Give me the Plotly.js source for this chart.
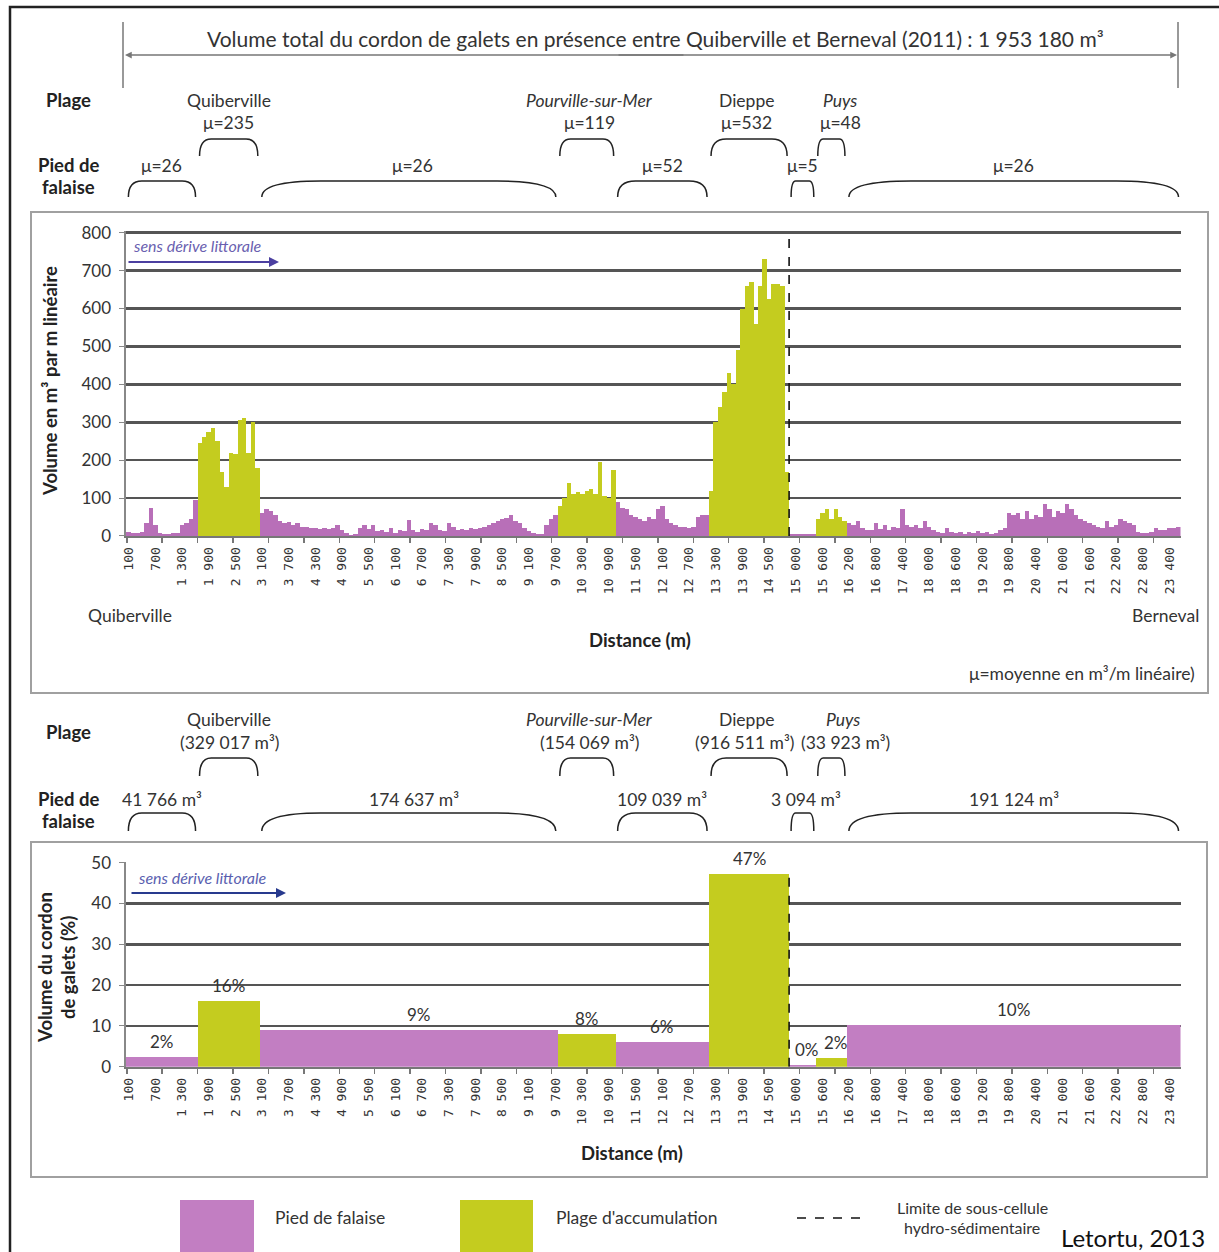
<!DOCTYPE html>
<html><head><meta charset="utf-8">
<script src="https://cdn.plot.ly/plotly-3.0.1.min.js"></script>
<style>body{margin:0;background:#fff}#chart{width:1219px;height:1252px}</style>
</head><body><div id="chart"></div>
<script>
// ---------------- DATA ----------------
const sampleStep = 100; // m between profiles
const segName   = ['Pied de falaise','Quiberville','Pied de falaise','Pourville-sur-Mer','Pied de falaise','Dieppe','Pied de falaise','Puys','Pied de falaise'];
const segType   = ['falaise','plage','falaise','plage','falaise','plage','falaise','plage','falaise'];
const segFirst  = [100, 1700, 3100, 9800, 11100, 13200, 15000, 15600, 16300]; // first profile (m)
const segMean   = [26, 235, 26, 119, 52, 532, 5, 48, 26];               // m3 / m
const segVolume = [41766, 329017, 174637, 154069, 109039, 916511, 3094, 33923, 191124]; // m3
const segPct    = [2.3, 16.1, 9.0, 8.1, 6.0, 47.3, 0.3, 2.1, 10.2];
const segPctLabel = ['2%','16%','9%','8%','6%','47%','0%','2%','10%'];
const totalVolume = '1 953 180';

const volPied1 = [10,8,8,10,35,75,30,8,6,6,7,8,30,35,45,95];
const volQuiberville = [245,260,275,285,250,170,130,220,215,305,310,220,300,180];
const volPied2 = [60,70,65,55,40,35,38,30,35,25,25,20,22,18,20,18,20,30,15,8,3,5,20,30,18,28,12,15,10,20,8,15,12,42,15,10,18,15,35,30,15,12,35,25,15,18,15,22,18,20,25,28,35,40,45,48,55,40,35,20,12,8,6,5,30,45,55];
const volPourville = [80,100,140,110,115,110,120,125,110,195,105,100,175];
const volPied3 = [90,75,70,55,50,45,40,50,45,70,80,45,35,30,25,25,20,25,50,55,55];
const volDieppe = [120,300,340,380,430,400,490,600,660,670,560,660,730,625,665,665,660,170];
const volPied4 = [4,5,6,6,5,4];
const volPuys = [45,60,70,45,70,50,40];
const volPied5 = [35,30,40,20,15,15,35,18,30,15,25,20,70,30,25,30,20,40,25,15,10,8,20,10,8,10,5,10,8,12,8,10,5,8,15,20,60,55,60,45,65,45,55,50,85,70,50,65,60,85,70,55,45,40,35,30,25,20,40,25,30,45,40,35,30,10,8,8,10,20,15,15,20,20,25];
const segSamples = [volPied1, volQuiberville, volPied2, volPourville, volPied3, volDieppe, volPied4, volPuys, volPied5];

const tickLabels = [100,700,1300,1900,2500,3100,3700,4300,4900,5500,6100,6700,7300,7900,8500,9100,9700,10300,10900,11500,12100,12700,13300,13900,14500,15000,15600,16200,16800,17400,18000,18600,19200,19800,20400,21000,21600,22200,22800,23400];
const limiteSousCellule = 14950; // m

// ---------------- STYLE / GEOMETRY ----------------
const W = 1219, H = 1252;
const px = v => v / W, py = v => 1 - v / H;
const FONT = 'Lato, "Open Sans", sans-serif';
const TXT = '#333333', DARK = '#222222';
const FS = 17.5, FSB = 18.5;
const PURPLE = '#b86fb8', PURPLE2 = '#c27ec2', GREEN = '#c4cc1f';
const xRange = [30, 23750];
const xDomPx = [125.5, 1180.5];
const mPerPx = (xRange[1]-xRange[0])/(xDomPx[1]-xDomPx[0]);
const fmt = n => String(n).replace(/\B(?=(\d{3})+(?!\d))/g, ' ');

// segment extents derived from the sampled profiles
const segLo = segFirst.map(f => f - sampleStep/2);
const segHi = segFirst.map((f,i) => f + segSamples[i].length*sampleStep - sampleStep/2);

// ---------------- TRACES ----------------
const xs = [], yF = [], yP = [];
segSamples.forEach((arr,i) => arr.forEach((v,j) => {
  xs.push(segFirst[i] + j*sampleStep);
  yF.push(segType[i]==='falaise' ? v : null);
  yP.push(segType[i]==='plage' ? v : null);
}));
const traces = [
  {type:'bar', x:xs, y:yF, width:sampleStep, marker:{color:PURPLE, line:{width:0}}, xaxis:'x', yaxis:'y', hoverinfo:'skip'},
  {type:'bar', x:xs, y:yP, width:sampleStep, marker:{color:GREEN, line:{width:0}}, xaxis:'x', yaxis:'y', hoverinfo:'skip'}
];
['falaise','plage'].forEach(t => {
  const idx = segType.map((s,i)=>s===t?i:-1).filter(i=>i>=0);
  traces.push({type:'bar', xaxis:'x2', yaxis:'y2', hoverinfo:'skip',
    x: idx.map(i => (segLo[i]+segHi[i])/2),
    width: idx.map(i => segHi[i]-segLo[i]),
    y: idx.map(i => segPct[i]),
    marker:{color: t==='falaise'?PURPLE2:GREEN, line:{width:0}}});
});

// ---------------- AXES ----------------
const tickPos = tickLabels.map((_,k) => 100 + 600*k);
const minorPos = []; for (let v = 60; v < xRange[1]; v += 796) minorPos.push(v);
function xAxis(anchor) {
  return {domain:[px(xDomPx[0]), px(xDomPx[1])], range:xRange, anchor, fixedrange:true,
    showgrid:false, zeroline:false, showline:true, linecolor:'#777', linewidth:2,
    tickmode:'array', tickvals:tickPos, ticktext:tickLabels.map(fmt), tickangle:-90,
    ticks:'', ticklabelstandoff:4,
    tickfont:{family:'"DejaVu Sans Mono", monospace', size:13, color:TXT},
    minor:{tickmode:'array', tickvals:minorPos, ticks:'outside', ticklen:5, tickcolor:'#777', tickwidth:1.5, showgrid:false}};
}
// y range slightly above the last gridline so that it is drawn
function yAxis(anchor, topVal, topPx, botPx, dtick) {
  const pad = topVal*0.004;
  const pxPerUnit = (botPx-topPx)/topVal;
  return {domain:[py(botPx), py(topPx - pad*pxPerUnit)], range:[0, topVal+pad], anchor, dtick, fixedrange:true,
    showgrid:true, gridcolor:'#555', gridwidth:2.5, zeroline:false,
    showline:true, linecolor:'#888', linewidth:2, ticks:'outside', ticklen:5, tickcolor:'#888',
    ticklabelstandoff:4, tickfont:{family:FONT, size:17, color:TXT}};
}

// ---------------- ANNOTATIONS / SHAPES ----------------
const ann = [], shp = [];
function T(text, x, y, o={}) {
  ann.push(Object.assign({text, x:px(x), y:py(y), xref:'paper', yref:'paper', showarrow:false,
    xanchor:'center', yanchor:'middle', font:{family:FONT, size:FS, color:TXT}}, o));
}
const B = (text, x, y, o={}) => T(`<b>${text}</b>`, x, y, Object.assign({font:{family:FONT, size:FSB, color:DARK}}, o));
function bracket(i, xref, topPx, botPx) {
  const inset = 2*mPerPx;
  const x0 = segLo[i]+inset, x1 = segHi[i]-inset;
  const wPx = (x1-x0)/mPerPx;
  const d = Math.min(0.2*wPx, 62)*mPerPx;
  const yt = py(topPx), yb = py(botPx);
  shp.push({type:'path', xref, yref:'paper', line:{color:'#222', width:1.5},
    path:`M ${x0},${yb} Q ${x0},${yt} ${x0+d},${yt} L ${x1-d},${yt} Q ${x1},${yt} ${x1},${yb}`});
}

// outer frame & boxes
shp.push({type:'rect', xref:'paper', yref:'paper', x0:px(10), x1:px(1235), y0:py(1270), y1:py(7), line:{color:'#222', width:2.5}});
shp.push({type:'rect', xref:'paper', yref:'paper', x0:px(31), x1:px(1208), y0:py(693), y1:py(212), line:{color:'#a0a0a0', width:2}, layer:'below'});
shp.push({type:'rect', xref:'paper', yref:'paper', x0:px(31), x1:px(1207), y0:py(1177), y1:py(842), line:{color:'#a0a0a0', width:2}, layer:'below'});

// title with arrow span
T(`Volume total du cordon de galets en présence entre Quiberville et Berneval (2011) : ${totalVolume} m³`, 655, 38, {font:{family:FONT, size:21, color:TXT}});
[123, 1178].forEach(x => shp.push({type:'line', xref:'paper', yref:'paper', x0:px(x), x1:px(x), y0:py(88), y1:py(22), line:{color:'#777', width:1.5}}));
[[125, 560], [1177, -560]].forEach(([x, ax]) => ann.push({text:'', x:px(x), y:py(55), xref:'paper', yref:'paper', showarrow:true, ax, ay:0,
  arrowhead:2, arrowsize:0.9, arrowwidth:1.5, arrowcolor:'#777'}));

// header rows (label shifts in px, styling only)
B('Plage', 68, 100);
B('Pied de', 68, 165);
B('falaise', 68, 187);
const headShiftTop = {1:0, 3:3, 5:-3, 7:9};
const headShiftBot = {1:1, 3:3, 5:-5, 7:14};
segType.forEach((t,i) => {
  const cx = ((segLo[i]+segHi[i])/2 - xRange[0])/mPerPx + xDomPx[0];
  const italic = (segName[i]==='Pourville-sur-Mer' || segName[i]==='Puys');
  const nm = italic ? `<i>${segName[i]}</i>` : segName[i];
  if (t === 'plage') {
    T(nm, cx + (headShiftTop[i]||0), 100);
    T(`μ=${segMean[i]}`, cx + (headShiftTop[i]||0), 123);
    bracket(i, 'x', 139, 156);
    T(nm, cx + (i===7?12:(headShiftTop[i]||0)), 719);
    T(`(${fmt(segVolume[i])} m³)`, cx + (headShiftBot[i]||0), 742);
    bracket(i, 'x2', 758, 776);
  } else {
    T(`μ=${segMean[i]}`, cx + (i===2?4:0), 165);
    bracket(i, 'x', 181, 197);
    T(`${fmt(segVolume[i])} m³`, cx + (i===2?5:(i===6?4:0)), 799);
    bracket(i, 'x2', 813, 831);
  }
});
B('Plage', 68, 732);
B('Pied de', 68, 799);
B('falaise', 68, 821);

// top chart labels
B('Volume en m³ par m linéaire', 50, 381, {textangle:-90});
T('Quiberville', 130, 615);
T('Berneval', 1165, 615);
B('Distance (m)', 640, 640);
T('μ=moyenne en m³/m linéaire)', 1197, 673, {xanchor:'right'});
T('<i>sens dérive littorale</i>', 197, 246, {font:{family:FONT, size:16, color:'#6a5fb0'}});
ann.push({text:'', x:px(279), y:py(262), xref:'paper', yref:'paper', showarrow:true, ax:-152, ay:0, arrowhead:2, arrowsize:1, arrowwidth:2, arrowcolor:'#4b3fa0'});

// bottom chart labels
B('Volume du cordon', 45, 968, {textangle:-90});
B('de galets (%)', 68, 968, {textangle:-90});
B('Distance (m)', 632, 1153);
T('<i>sens dérive littorale</i>', 202, 877, {font:{family:FONT, size:16, color:'#5a5fb0'}});
ann.push({text:'', x:px(286), y:py(893), xref:'paper', yref:'paper', showarrow:true, ax:-156, ay:0, arrowhead:2, arrowsize:1, arrowwidth:2, arrowcolor:'#283a8e'});
segPct.forEach((v,i) => ann.push({text:segPctLabel[i], x:(segLo[i]+segHi[i])/2, y:v, xref:'x2', yref:'y2',
  showarrow:false, yanchor:'bottom', yshift:3, xshift:(i===6?5:(i===7?5:(i===2?10:0))), font:{family:FONT, size:17, color:TXT}}));

// dashed sub-cell limit
shp.push({type:'line', xref:'x', yref:'y', x0:limiteSousCellule, x1:limiteSousCellule, y0:0, y1:800, line:{color:'#111', width:1.6, dash:'dash'}});
shp.push({type:'line', xref:'x2', yref:'y2', x0:limiteSousCellule, x1:limiteSousCellule, y0:0, y1:48, line:{color:'#111', width:1.6, dash:'dash'}});

// legend
shp.push({type:'rect', xref:'paper', yref:'paper', x0:px(180), x1:px(254), y0:py(1252), y1:py(1200), fillcolor:PURPLE2, line:{width:0}});
shp.push({type:'rect', xref:'paper', yref:'paper', x0:px(460), x1:px(533), y0:py(1252), y1:py(1200), fillcolor:GREEN, line:{width:0}});
T('Pied de falaise', 330, 1217);
T("Plage d'accumulation", 636, 1217);
shp.push({type:'line', xref:'paper', yref:'paper', x0:px(797), x1:px(862), y0:py(1218), y1:py(1218), line:{color:'#111', width:1.6, dash:'dash'}});
T('Limite de sous-cellule', 972, 1207, {font:{family:FONT, size:16, color:TXT}});
T('hydro-sédimentaire', 972, 1227, {font:{family:FONT, size:16, color:TXT}});
T('Letortu, 2013', 1133, 1237, {font:{family:FONT, size:24, color:'#111'}});

const layout = {
  width:W, height:H, margin:{l:0,r:0,t:0,b:0}, paper_bgcolor:'#fff', plot_bgcolor:'#fff',
  showlegend:false, barmode:'overlay', bargap:0,
  xaxis: xAxis('y'), yaxis: yAxis('x', 800, 232.7, 536, 100),
  xaxis2: xAxis('y2'), yaxis2: yAxis('x2', 50, 862.7, 1066.7, 10),
  annotations: ann, shapes: shp
};
Plotly.newPlot('chart', traces, layout, {displayModeBar:false, staticPlot:true});
</script></body></html>
